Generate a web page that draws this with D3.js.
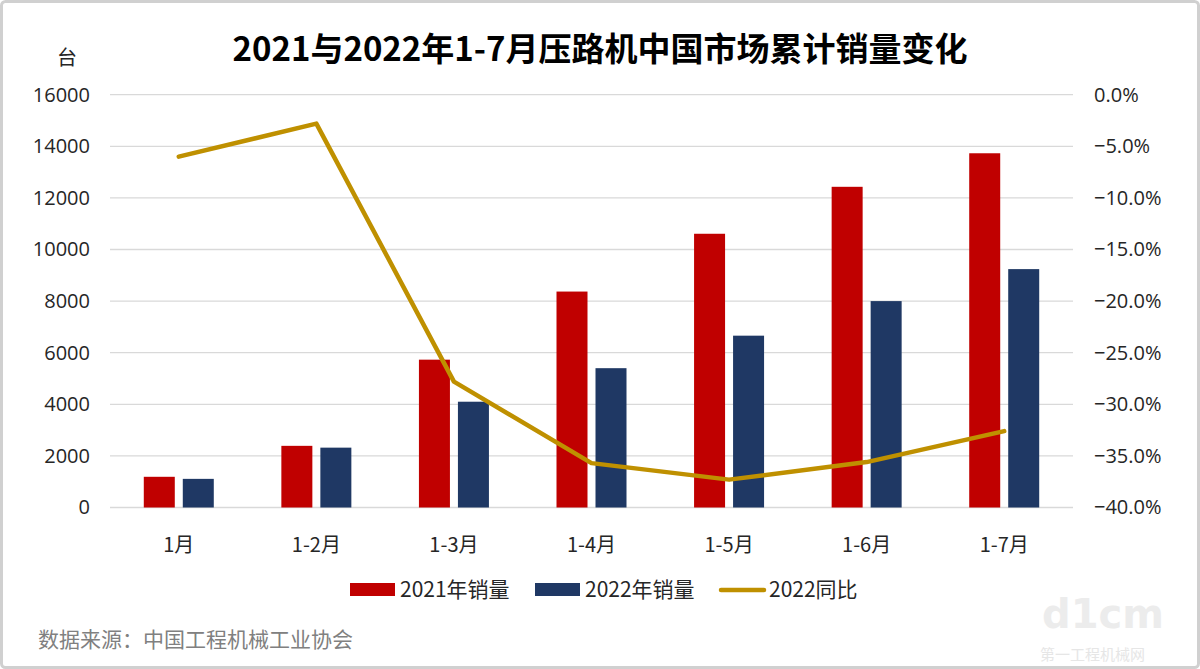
<!DOCTYPE html>
<html>
<head>
<meta charset="utf-8">
<script src="https://cdn.jsdelivr.net/npm/d3@7"></script>
<style>
  body { margin: 0; background: #fff; }
  text { font-family: "Noto Sans CJK SC", "Noto Sans", sans-serif; }
</style>
</head>
<body>
<div id="chart"></div>
<script>
// data
const categories = ["1月", "1-2月", "1-3月", "1-4月", "1-5月", "1-6月", "1-7月"];
const sales2021 = [1190, 2390, 5730, 8370, 10610, 12430, 13730];
const sales2022 = [1110, 2320, 4100, 5400, 6660, 8000, 9240];
const yoy2022 = [-0.060, -0.028, -0.278, -0.357, -0.373, -0.356, -0.326];
const leftTicks = [0, 2000, 4000, 6000, 8000, 10000, 12000, 14000, 16000];
const rightTicks = [0, -0.05, -0.10, -0.15, -0.20, -0.25, -0.30, -0.35, -0.40];

const W = 1200, H = 669;
const svg = d3.select("#chart").append("svg").attr("width", W).attr("height", H);

// frame
svg.append("rect").attr("x", 1.5).attr("y", 1.5).attr("width", W - 3).attr("height", H - 3)
    .attr("rx", 4).style("fill", "#fff").style("stroke", "#d0d0d0").style("stroke-width", 3);

const x = d3.scaleBand().domain(categories).range([110, 1073]);
const y = d3.scaleLinear().domain([0, 16000]).range([507.5, 94.7]);
const y2 = d3.scaleLinear().domain([-0.4, 0]).range([507.5, 94.7]);

// gridlines
svg.append("g").selectAll("line").data(leftTicks).join("line")
    .attr("x1", 110).attr("x2", 1073)
    .attr("y1", d => y(d)).attr("y2", d => y(d))
    .style("stroke", "#d9d9d9").style("stroke-width", 1.3);

// left axis
const axL = svg.append("g").attr("transform", "translate(90,0)")
    .call(d3.axisLeft(y).tickValues(leftTicks).tickSize(0).tickPadding(0).tickFormat(d3.format("d")));
axL.select(".domain").remove();
axL.selectAll("text").style("font-size", "20px").style("fill", "#262626")
    .style("font-family", "'Open Sans', 'Noto Sans', sans-serif");

// right axis
const axR = svg.append("g").attr("transform", "translate(1094,0)")
    .call(d3.axisRight(y2).tickValues(rightTicks).tickSize(0).tickPadding(0).tickFormat(d3.format(".1%")));
axR.select(".domain").remove();
axR.selectAll("text").style("font-size", "20px").style("fill", "#262626")
    .style("font-family", "'Open Sans', 'Noto Sans', sans-serif");

// x labels
svg.append("g").selectAll("text").data(categories).join("text")
    .attr("x", d => x(d) + x.bandwidth() / 2).attr("y", 552)
    .attr("text-anchor", "middle")
    .style("font-size", "20px").style("fill", "#262626")
    .text(d => d);

// bars
const barW = 31, gap = 8;
svg.append("g").selectAll("rect").data(sales2021).join("rect")
    .attr("x", (d, i) => x(categories[i]) + x.bandwidth() / 2 - gap / 2 - barW)
    .attr("y", d => y(d)).attr("width", barW).attr("height", d => y(0) - y(d))
    .style("fill", "#C00000");
svg.append("g").selectAll("rect").data(sales2022).join("rect")
    .attr("x", (d, i) => x(categories[i]) + x.bandwidth() / 2 + gap / 2)
    .attr("y", d => y(d)).attr("width", barW).attr("height", d => y(0) - y(d))
    .style("fill", "#1F3864");

// yoy line
const line = d3.line()
    .x((d, i) => x(categories[i]) + x.bandwidth() / 2)
    .y(d => y2(d));
svg.append("path").datum(yoy2022).attr("d", line)
    .style("fill", "none").style("stroke", "#BF9000").style("stroke-width", 4.5)
    .style("stroke-linejoin", "round").style("stroke-linecap", "round");

// title + unit
svg.append("text").attr("x", 600).attr("y", 61).attr("text-anchor", "middle")
    .style("font-size", "33px").style("font-weight", "bold").style("fill", "#000")
    .text("2021与2022年1-7月压路机中国市场累计销量变化");
svg.append("text").attr("x", 67).attr("y", 65).attr("text-anchor", "middle")
    .style("font-size", "20px").style("fill", "#262626").text("台");

// legend
const legend = svg.append("g").attr("transform", "translate(0,590)");
legend.append("rect").attr("x", 350).attr("y", -7).attr("width", 45).attr("height", 13).style("fill", "#C00000");
legend.append("text").attr("x", 400).attr("y", 7).style("font-size", "21px").style("fill", "#262626").text("2021年销量");
legend.append("rect").attr("x", 535).attr("y", -7).attr("width", 45).attr("height", 13).style("fill", "#1F3864");
legend.append("text").attr("x", 585).attr("y", 7).style("font-size", "21px").style("fill", "#262626").text("2022年销量");
legend.append("line").attr("x1", 721).attr("x2", 764).attr("y1", 0).attr("y2", 0)
    .style("stroke", "#BF9000").style("stroke-width", 4.5).style("stroke-linecap", "round");
legend.append("text").attr("x", 769).attr("y", 7).style("font-size", "21px").style("fill", "#262626").text("2022同比");

// source note
svg.append("text").attr("x", 38).attr("y", 647)
    .style("font-size", "21px").style("fill", "#808080")
    .text("数据来源：中国工程机械工业协会");

// corner logo (faint)
svg.append("text").attr("x", 1042).attr("y", 628)
    .style("font-size", "40px").style("font-weight", "bold").style("fill", "#ececec")
    .style("font-family", "'DejaVu Sans', sans-serif").text("d1cm");
svg.append("text").attr("x", 1040).attr("y", 660)
    .style("font-size", "15px").style("fill", "#e6e6e6").text("第一工程机械网");
</script>
</body>
</html>
